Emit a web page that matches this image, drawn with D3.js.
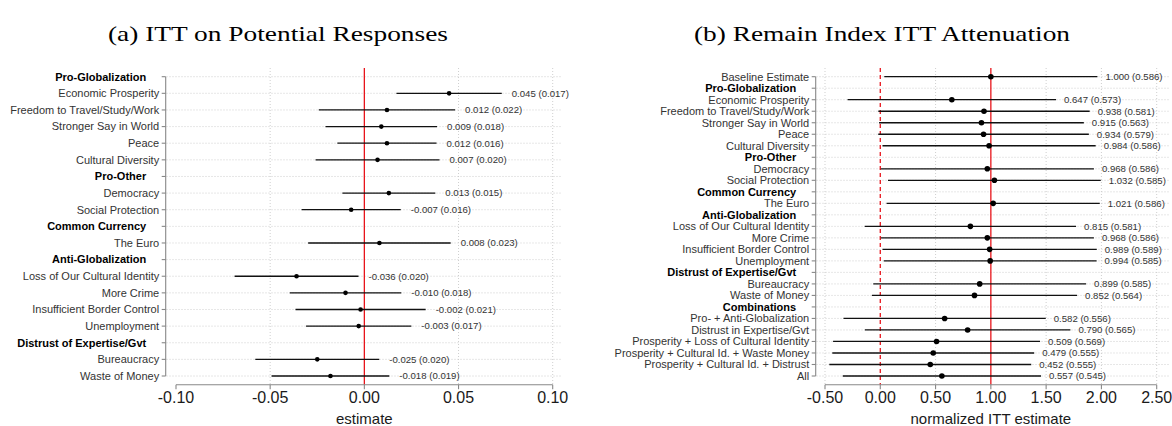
<!DOCTYPE html>
<html>
<head>
<meta charset="utf-8">
<script src="https://cdn.jsdelivr.net/npm/d3@7"></script>
<style>
  html, body { margin: 0; padding: 0; background: #fff; }
  svg { display: block; }
</style>
</head>
<body>
<svg id="chart" width="1172" height="426"></svg>
<script>
// ---- Panel (a): ITT on potential responses ----
const leftRows = [
  "Pro-Globalization", "Economic Prosperity", "Freedom to Travel/Study/Work",
  "Stronger Say in World", "Peace", "Cultural Diversity",
  "Pro-Other", "Democracy", "Social Protection",
  "Common Currency", "The Euro",
  "Anti-Globalization", "Loss of Our Cultural Identity", "More Crime",
  "Insufficient Border Control", "Unemployment",
  "Distrust of Expertise/Gvt", "Bureaucracy", "Waste of Money"
];
// null marks a group heading
const leftEstimates = [null, 0.045, 0.012, 0.009, 0.012, 0.007, null, 0.013, -0.007, null, 0.008,
  null, -0.036, -0.010, -0.002, -0.003, null, -0.025, -0.018];
const leftSE = [null, 0.017, 0.022, 0.018, 0.016, 0.020, null, 0.015, 0.016, null, 0.023,
  null, 0.020, 0.018, 0.021, 0.017, null, 0.020, 0.019];
const leftTicks = [-0.10, -0.05, 0.00, 0.05, 0.10];

// ---- Panel (b): Remain index ITT attenuation ----
const rightRows = [
  "Baseline Estimate",
  "Pro-Globalization", "Economic Prosperity", "Freedom to Travel/Study/Work",
  "Stronger Say in World", "Peace", "Cultural Diversity",
  "Pro-Other", "Democracy", "Social Protection",
  "Common Currency", "The Euro",
  "Anti-Globalization", "Loss of Our Cultural Identity", "More Crime",
  "Insufficient Border Control", "Unemployment",
  "Distrust of Expertise/Gvt", "Bureaucracy", "Waste of Money",
  "Combinations", "Pro- + Anti-Globalization", "Distrust in Expertise/Gvt",
  "Prosperity + Loss of Cultural Identity", "Prosperity + Cultural Id. + Waste Money",
  "Prosperity + Cultural Id. + Distrust", "All"
];
const rightEstimates = [1.000, null, 0.647, 0.938, 0.915, 0.934, 0.984, null, 0.968, 1.032,
  null, 1.021, null, 0.815, 0.968, 0.989, 0.994, null, 0.899, 0.852,
  null, 0.582, 0.790, 0.509, 0.479, 0.452, 0.557];
const rightSE = [0.586, null, 0.573, 0.581, 0.563, 0.579, 0.586, null, 0.586, 0.585,
  null, 0.586, null, 0.581, 0.586, 0.589, 0.585, null, 0.585, 0.564,
  null, 0.556, 0.565, 0.569, 0.555, 0.555, 0.545];
const rightTicks = [-0.50, 0.00, 0.50, 1.00, 1.50, 2.00, 2.50];

const Z90 = 1.645; // 90% interval half-width multiplier

const svg = d3.select("#chart");
const SANS = "'Liberation Sans', Arial, Helvetica, sans-serif";
const fmt2 = v => v.toFixed(2);
const fmt3 = v => v.toFixed(3);

function drawPanel(cfg) {
  const g = svg.append("g");
  const x = d3.scaleLinear().domain(cfg.domain).range(cfg.xRange);
  const y = d3.scalePoint().domain(cfg.rows).range([76.7, 376]);
  const [pl, pr] = cfg.panelX;
  const pt = 68, pb = 384.7;

  const rows = cfg.rows.map((r, i) => ({
    label: r, est: cfg.est[i], se: cfg.se[i], header: cfg.est[i] === null
  }));

  // dotted grid
  g.selectAll(".hgrid").data(rows).join("line")
    .attr("x1", pl).attr("x2", pr)
    .attr("y1", d => y(d.label)).attr("y2", d => y(d.label))
    .attr("stroke", "#c9c9c9").attr("stroke-width", 0.9).attr("stroke-dasharray", "1,2");
  g.selectAll(".vgrid").data(cfg.gridTicks).join("line")
    .attr("x1", d => x(d)).attr("x2", d => x(d))
    .attr("y1", pt).attr("y2", pb)
    .attr("stroke", "#c9c9c9").attr("stroke-width", 0.9).attr("stroke-dasharray", "1,2");

  // reference lines
  cfg.refLines.forEach(rl => {
    g.append("line")
      .attr("x1", x(rl.v)).attr("x2", x(rl.v)).attr("y1", pt).attr("y2", pb)
      .attr("stroke", "#e8141b").attr("stroke-width", 1.3)
      .attr("stroke-dasharray", rl.dash ? "4,3" : null);
  });

  const items = rows.filter(d => !d.header);

  // intervals
  g.selectAll(".ci").data(items).join("line")
    .attr("x1", d => x(d.est - Z90 * d.se)).attr("x2", d => x(d.est + Z90 * d.se))
    .attr("y1", d => y(d.label)).attr("y2", d => y(d.label))
    .attr("stroke", "#111").attr("stroke-width", 1.3);

  // point estimates
  g.selectAll(".pt").data(items).join("circle")
    .attr("cx", d => x(d.est)).attr("cy", d => y(d.label))
    .attr("r", cfg.r).attr("fill", "#000");

  // value labels
  g.selectAll(".val").data(items).join("text")
    .attr("x", d => x(d.est + Z90 * d.se) + cfg.labelGap)
    .attr("y", d => y(d.label)).attr("dy", "0.35em")
    .attr("font-family", SANS).attr("font-size", 9.6).attr("fill", "#333")
    .text(d => `${fmt3(d.est)} (${fmt3(d.se)})`);

  // left axis (capped to the rows)
  const ax = cfg.axisX;
  g.append("line").attr("x1", ax).attr("x2", ax).attr("y1", y(cfg.rows[0])).attr("y2", y(cfg.rows[cfg.rows.length - 1]))
    .attr("stroke", "#888").attr("stroke-width", 1.1);
  g.selectAll(".ytick").data(rows).join("line")
    .attr("x1", ax - 4).attr("x2", ax)
    .attr("y1", d => y(d.label)).attr("y2", d => y(d.label))
    .attr("stroke", "#888").attr("stroke-width", 1.1);
  g.selectAll(".ylab").data(rows).join("text")
    .attr("x", d => ax - (d.header ? 19.5 : 6.5))
    .attr("y", d => y(d.label)).attr("dy", "0.35em")
    .attr("text-anchor", "end")
    .attr("font-family", SANS).attr("font-size", 11)
    .attr("font-weight", d => d.header ? "bold" : "normal")
    .attr("fill", d => d.header ? "#000" : "#333")
    .text(d => d.label);

  // bottom axis (capped to the ticks)
  const t0 = cfg.ticks[0], t1 = cfg.ticks[cfg.ticks.length - 1];
  g.append("line").attr("x1", x(t0)).attr("x2", x(t1)).attr("y1", pb).attr("y2", pb)
    .attr("stroke", "#888").attr("stroke-width", 1.1);
  g.selectAll(".xtick").data(cfg.ticks).join("line")
    .attr("x1", d => x(d)).attr("x2", d => x(d)).attr("y1", pb).attr("y2", pb + 4.5)
    .attr("stroke", "#888").attr("stroke-width", 1.1);
  g.selectAll(".xlab").data(cfg.ticks).join("text")
    .attr("x", d => x(d)).attr("y", 402.5)
    .attr("text-anchor", "middle")
    .attr("font-family", SANS).attr("font-size", 16).attr("fill", "#1a1a1a")
    .text(d => fmt2(d));

  g.append("text")
    .attr("x", (x(t0) + x(t1)) / 2).attr("y", 423.5)
    .attr("text-anchor", "middle")
    .attr("font-family", SANS).attr("font-size", 15).attr("fill", "#1a1a1a")
    .text(cfg.xTitle);

  svg.append("text")
    .attr("x", cfg.titleX).attr("y", 41)
    .attr("text-anchor", "middle")
    .attr("font-family", "'Liberation Serif', 'DejaVu Serif', serif").attr("font-size", 21)
    .attr("textLength", cfg.titleWidth).attr("lengthAdjust", "spacingAndGlyphs")
    .attr("fill", "#000")
    .text(cfg.title);
}

drawPanel({
  rows: leftRows, est: leftEstimates, se: leftSE, ticks: leftTicks,
  gridTicks: [-0.05, 0.05, 0.10],
  domain: [-0.10, 0.10], xRange: [176, 552.7], panelX: [166.5, 561],
  axisX: 165.7, r: 2.3, labelGap: 10,
  refLines: [{ v: 0, dash: false }],
  xTitle: "estimate",
  title: "(a) ITT on Potential Responses", titleX: 278, titleWidth: 340
});

drawPanel({
  rows: rightRows, est: rightEstimates, se: rightSE, ticks: rightTicks,
  gridTicks: [-0.5, 0.5, 1.5, 2.0, 2.5],
  domain: [-0.5, 2.5], xRange: [825, 1156.7], panelX: [816.5, 1170],
  axisX: 815.7, r: 2.8, labelGap: 8,
  refLines: [{ v: 0, dash: true }, { v: 1, dash: false }],
  xTitle: "normalized ITT estimate",
  title: "(b) Remain Index ITT Attenuation", titleX: 882, titleWidth: 376
});
</script>
</body>
</html>
